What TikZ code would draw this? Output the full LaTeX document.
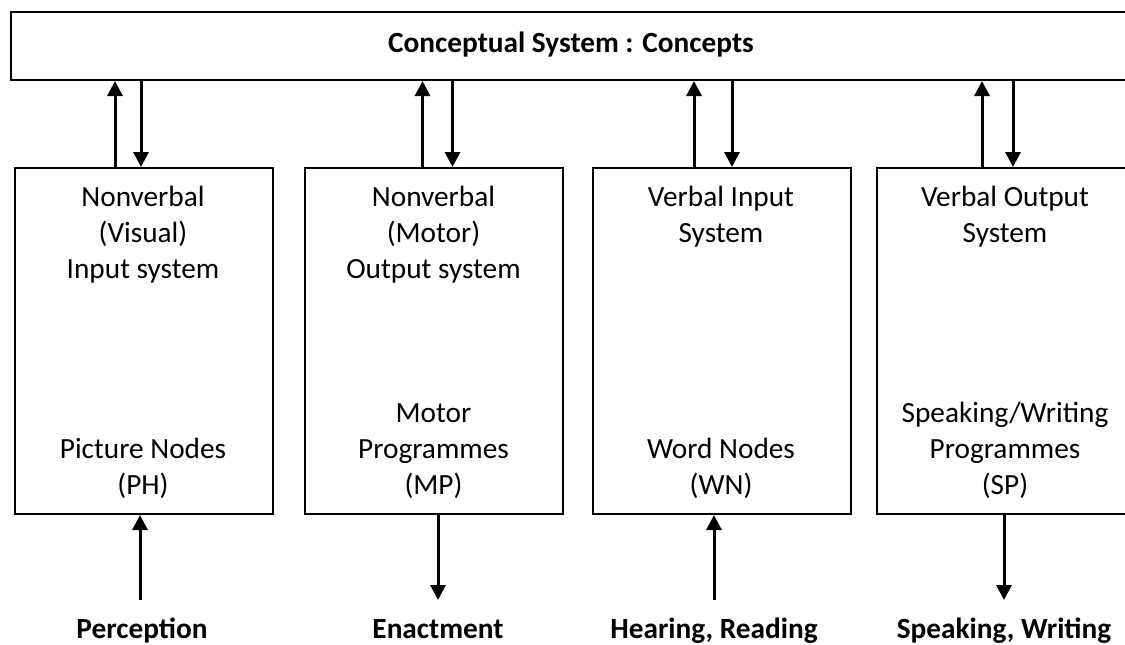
\documentclass[tikz,border=0pt]{standalone}
\usepackage{fontspec}
\setmainfont{Carlito}
\usetikzlibrary{arrows.meta}
\begin{document}
\begin{tikzpicture}[x=1pt,y=-1pt,
  sysbox/.style={draw,line width=2pt,minimum width=258pt,minimum height=346pt,
    inner sep=0pt,anchor=north west},
  txt/.style={align=center,font=\fontsize{29.3}{36}\selectfont,inner sep=0pt},
  lbl/.style={font=\fontsize{29.3}{36}\selectfont\bfseries,inner sep=0pt,anchor=base},
  arr/.style={line width=3pt,-{Triangle[width=15pt,length=15pt]}}]
\useasboundingbox (0,0) rectangle (1125,645);

% conceptual system band across the top
\node[draw,line width=2pt,minimum width=1140pt,minimum height=68pt,
  inner sep=0pt,anchor=north west] (top) at (10,11) {};
\node[lbl] (ctitle) at (571,52) {Conceptual System : Concepts};

% the four subsystems
\node[sysbox] (b1) at (14,167) {};
\node[sysbox] (b2) at (304,167) {};
\node[sysbox] (b3) at (592,167) {};
\node[sysbox] (b4) at (876,167) {};

\node[txt] (b1a) at (143,234.5) {Nonverbal\\(Visual)\\Input system};
\node[txt] (b1b) at (143,468) {Picture Nodes\\(PH)};
\node[txt] (b2a) at (433.5,234.5) {Nonverbal\\(Motor)\\Output system};
\node[txt] (b2b) at (433.5,451) {Motor\\Programmes\\(MP)};
\node[txt] (b3a) at (721,216.5) {Verbal Input\\System};
\node[txt] (b3b) at (721,468) {Word Nodes\\(WN)};
\node[txt] (b4a) at (1005,216.5) {Verbal Output\\System};
\node[txt] (b4b) at (1005,450) {Speaking/Writing\\Programmes\\(SP)};

% links between each subsystem and the conceptual system
\draw[arr] ([xshift=-29pt]b1.north) -- ([xshift=-29pt]b1.north |- top.south);
\draw[arr] ([xshift=-3pt]b1.north |- top.south) -- ([xshift=-3pt]b1.north);
\draw[arr] ([xshift=-11.5pt]b2.north) -- ([xshift=-11.5pt]b2.north |- top.south);
\draw[arr] ([xshift=18.5pt]b2.north |- top.south) -- ([xshift=18.5pt]b2.north);
\draw[arr] ([xshift=-28pt]b3.north) -- ([xshift=-28pt]b3.north |- top.south);
\draw[arr] ([xshift=10pt]b3.north |- top.south) -- ([xshift=10pt]b3.north);
\draw[arr] ([xshift=-24pt]b4.north) -- ([xshift=-24pt]b4.north |- top.south);
\draw[arr] ([xshift=7pt]b4.north |- top.south) -- ([xshift=7pt]b4.north);

% external inputs and outputs
\coordinate (e1) at (140,600);
\coordinate (e2) at (438,600);
\coordinate (e3) at (714,600);
\coordinate (e4) at (1004,600);
\draw[arr] (e1) -- (e1 |- b1.south);
\draw[arr] (e2 |- b2.south) -- (e2);
\draw[arr] (e3) -- (e3 |- b3.south);
\draw[arr] (e4 |- b4.south) -- (e4);

\node[lbl] (l1) at (142,638) {Perception};
\node[lbl] (l2) at (438,638) {Enactment};
\node[lbl] (l3) at (714,638) {Hearing, Reading};
\node[lbl] (l4) at (1004,638) {Speaking, Writing};
\end{tikzpicture}
\end{document}
